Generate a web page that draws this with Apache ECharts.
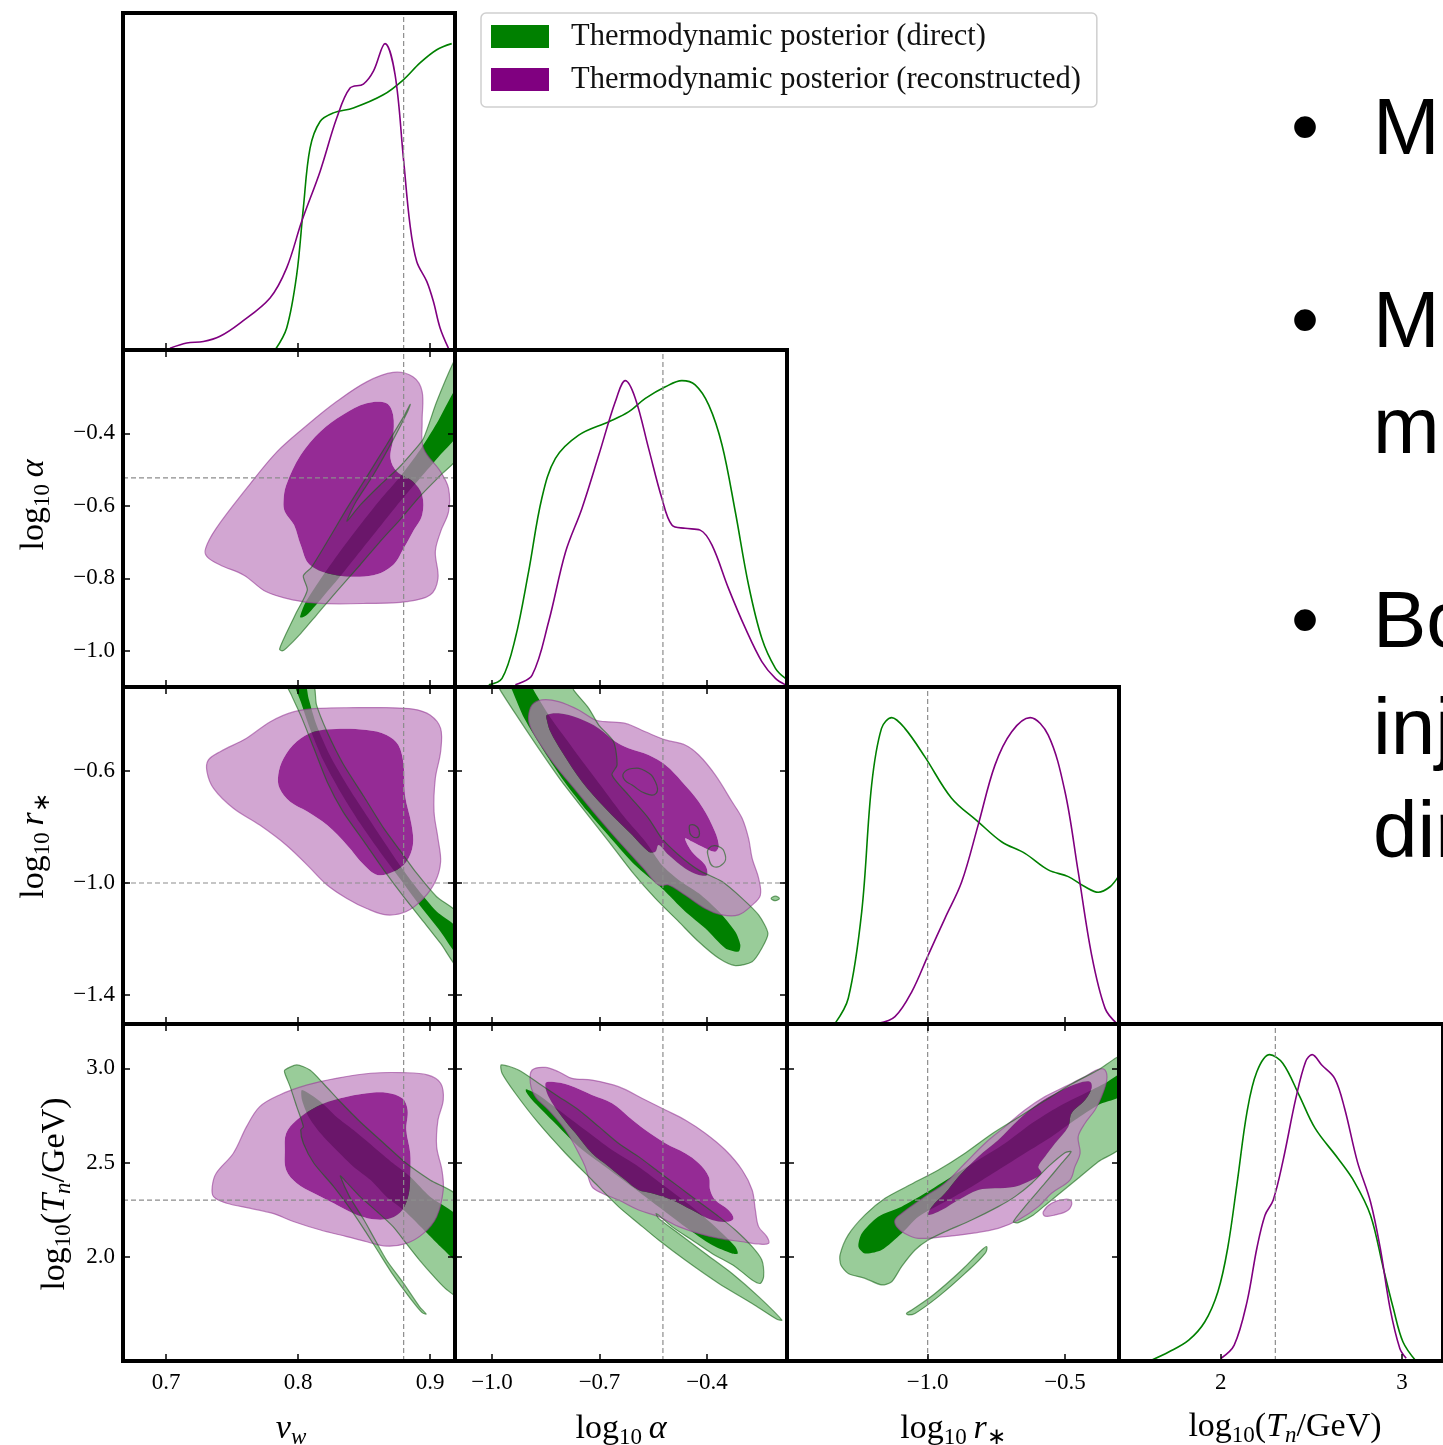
<!DOCTYPE html>
<html><head><meta charset="utf-8">
<script src="https://cdn.jsdelivr.net/npm/echarts@6/dist/echarts.min.js"></script>
<style>html,body{margin:0;padding:0;background:#fff;overflow:hidden}#c{width:1443px;height:1445px}</style>
</head><body><div id="c"></div><script>
// ---------------- DATA ----------------
const NAME_D = 'Thermodynamic posterior (direct)';
const NAME_R = 'Thermodynamic posterior (reconstructed)';
// injected (true) values: v_w, log10 alpha, log10 r*, log10 Tn
const injected = [0.88, -0.523, -1.0, 2.301];
// tick labels
const vwTicks = [0.7, 0.8, 0.9];
const alphaTicksX = [-1.0, -0.7, -0.4];
const rTicksX = [-1.0, -0.5];
const tTicksX = [2, 3];
const alphaTicksY = [-0.4, -0.6, -0.8, -1.0];
const rTicksY = [-0.6, -1.0, -1.4];
const tTicksY = [3.0, 2.5, 2.0];

// 1D marginals (normalised to peak = 1)
const vwDirect = [[0.7826,0.0],[0.7914,0.072],[0.799,0.246],[0.804,0.463],[0.8091,0.659],[0.8167,0.746],[0.8268,0.774],[0.8419,0.79],[0.8646,0.833],[0.8798,0.882],[0.8924,0.937],[0.9051,0.98],[0.9164,1.0]];
const vwRecon = [[0.703,0.006],[0.7157,0.023],[0.7283,0.028],[0.7409,0.045],[0.7561,0.088],[0.7788,0.17],[0.7914,0.268],[0.8028,0.42],[0.8167,0.583],[0.8293,0.757],[0.8394,0.855],[0.8495,0.868],[0.8571,0.91],[0.8659,1.0],[0.8735,0.899],[0.8798,0.627],[0.8848,0.409],[0.8899,0.289],[0.8975,0.224],[0.9025,0.159],[0.9076,0.072],[0.9139,0.006]];
const alphaDirect = [[-1.009,0.007],[-0.972,0.028],[-0.935,0.159],[-0.898,0.376],[-0.861,0.616],[-0.823,0.746],[-0.758,0.822],[-0.674,0.866],[-0.619,0.898],[-0.572,0.942],[-0.516,0.98],[-0.470,1.0],[-0.433,0.986],[-0.395,0.92],[-0.358,0.79],[-0.321,0.572],[-0.284,0.333],[-0.247,0.159],[-0.209,0.061],[-0.181,0.028]];
const alphaRecon = [[-0.935,0.007],[-0.888,0.039],[-0.842,0.213],[-0.795,0.44],[-0.749,0.583],[-0.702,0.757],[-0.656,0.931],[-0.628,1.0],[-0.600,0.942],[-0.563,0.779],[-0.526,0.616],[-0.498,0.529],[-0.461,0.518],[-0.419,0.512],[-0.386,0.463],[-0.340,0.322],[-0.293,0.192],[-0.247,0.083],[-0.209,0.028],[-0.181,0.007]];
const rDirect = [[-1.337,0.002],[-1.289,0.084],[-1.240,0.367],[-1.204,0.78],[-1.168,0.965],[-1.131,1.0],[-1.083,0.965],[-1.010,0.872],[-0.913,0.737],[-0.816,0.66],[-0.731,0.595],[-0.646,0.557],[-0.561,0.503],[-0.488,0.481],[-0.427,0.448],[-0.379,0.43],[-0.336,0.448],[-0.306,0.481]];
const rRecon = [[-1.180,0.002],[-1.119,0.024],[-1.058,0.105],[-0.998,0.225],[-0.937,0.345],[-0.876,0.464],[-0.816,0.65],[-0.755,0.845],[-0.694,0.954],[-0.627,1.0],[-0.561,0.943],[-0.500,0.758],[-0.452,0.497],[-0.403,0.225],[-0.354,0.051],[-0.312,0.002]];
const tDirect = [[1.608,0.0],[1.715,0.03],[1.823,0.068],[1.912,0.128],[1.984,0.226],[2.038,0.368],[2.091,0.585],[2.145,0.814],[2.199,0.944],[2.270,1.0],[2.342,0.972],[2.432,0.868],[2.52,0.76],[2.647,0.661],[2.737,0.585],[2.826,0.476],[2.898,0.30],[2.952,0.172],[3.005,0.063],[3.077,0.0]];
const tRecon = [[2.002,0.009],[2.074,0.052],[2.145,0.194],[2.199,0.368],[2.244,0.476],[2.289,0.525],[2.342,0.65],[2.414,0.857],[2.468,0.977],[2.504,1.0],[2.557,0.966],[2.629,0.922],[2.683,0.825],[2.754,0.65],[2.826,0.52],[2.880,0.368],[2.934,0.172],[2.988,0.041],[3.023,0.009]];

// 2D credible contours (outer = 2 sigma, inner = 1 sigma)
// v_w vs log10 alpha
const vwAlphaDirOuter = [[0.786,-0.995],[0.791,-0.952],[0.799,-0.892],[0.807,-0.832],[0.804,-0.793],[0.810,-0.770],[0.822,-0.699],[0.837,-0.607],[0.852,-0.520],[0.867,-0.432],[0.880,-0.354],[0.885,-0.320],[0.883,-0.340],[0.872,-0.418],[0.857,-0.515],[0.844,-0.588],[0.837,-0.642],[0.847,-0.598],[0.862,-0.543],[0.877,-0.492],[0.887,-0.451],[0.895,-0.414],[0.905,-0.313],[0.918,-0.202],[0.922,-0.184],[0.922,-0.460],[0.908,-0.515],[0.892,-0.575],[0.877,-0.639],[0.862,-0.699],[0.847,-0.763],[0.829,-0.837],[0.814,-0.901],[0.802,-0.952],[0.791,-0.993],[0.788,-1.000]];
const vwAlphaDirInner = [[0.8015,-0.906],[0.8053,-0.869],[0.8167,-0.804],[0.8318,-0.726],[0.847,-0.653],[0.8621,-0.584],[0.8773,-0.520],[0.8924,-0.446],[0.9051,-0.372],[0.922,-0.267],[0.922,-0.395],[0.9076,-0.460],[0.8924,-0.524],[0.8773,-0.588],[0.8621,-0.657],[0.847,-0.726],[0.8318,-0.795],[0.8167,-0.860],[0.8066,-0.901],[0.8028,-0.908]];
const vwAlphaRecOuter = [[0.730,-0.717],[0.738,-0.662],[0.761,-0.552],[0.784,-0.451],[0.807,-0.377],[0.829,-0.313],[0.852,-0.258],[0.872,-0.232],[0.887,-0.244],[0.894,-0.285],[0.894,-0.368],[0.895,-0.441],[0.908,-0.506],[0.914,-0.552],[0.914,-0.616],[0.908,-0.671],[0.904,-0.726],[0.906,-0.800],[0.900,-0.846],[0.882,-0.864],[0.852,-0.869],[0.817,-0.869],[0.797,-0.860],[0.776,-0.837],[0.759,-0.791],[0.741,-0.763],[0.731,-0.740]];
const vwAlphaRecInner = [[0.789,-0.588],[0.791,-0.543],[0.802,-0.460],[0.817,-0.395],[0.834,-0.349],[0.852,-0.317],[0.867,-0.317],[0.872,-0.349],[0.872,-0.414],[0.870,-0.469],[0.875,-0.506],[0.887,-0.533],[0.894,-0.570],[0.894,-0.625],[0.887,-0.671],[0.880,-0.717],[0.872,-0.763],[0.857,-0.791],[0.829,-0.791],[0.809,-0.763],[0.802,-0.708],[0.797,-0.653],[0.790,-0.616]];
// v_w vs log10 r*
const vwRDirOuter = [[0.791,-0.281],[0.795,-0.329],[0.803,-0.412],[0.812,-0.519],[0.822,-0.638],[0.834,-0.745],[0.850,-0.852],[0.865,-0.954],[0.880,-1.049],[0.895,-1.138],[0.908,-1.216],[0.922,-1.305],[0.922,-1.114],[0.905,-1.049],[0.890,-0.966],[0.877,-0.882],[0.865,-0.805],[0.850,-0.692],[0.834,-0.573],[0.822,-0.460],[0.814,-0.364],[0.811,-0.281]];
const vwRDirInner = [[0.797,-0.281],[0.802,-0.352],[0.809,-0.448],[0.819,-0.561],[0.832,-0.674],[0.847,-0.787],[0.862,-0.888],[0.877,-0.983],[0.892,-1.079],[0.908,-1.174],[0.922,-1.263],[0.922,-1.168],[0.905,-1.102],[0.890,-1.019],[0.877,-0.936],[0.865,-0.852],[0.850,-0.745],[0.837,-0.650],[0.824,-0.543],[0.814,-0.436],[0.808,-0.341],[0.805,-0.281]];
const vwRRecOuter = [[0.732,-0.561],[0.741,-0.531],[0.761,-0.483],[0.779,-0.424],[0.797,-0.388],[0.817,-0.376],[0.842,-0.374],[0.867,-0.374],[0.887,-0.379],[0.900,-0.400],[0.908,-0.448],[0.908,-0.531],[0.904,-0.626],[0.903,-0.745],[0.906,-0.841],[0.908,-0.924],[0.904,-0.995],[0.895,-1.055],[0.882,-1.102],[0.867,-1.114],[0.852,-1.091],[0.837,-1.055],[0.822,-1.007],[0.807,-0.936],[0.791,-0.864],[0.771,-0.793],[0.751,-0.733],[0.736,-0.662],[0.731,-0.602]];
const vwRRecInner = [[0.785,-0.614],[0.789,-0.555],[0.799,-0.495],[0.812,-0.460],[0.829,-0.450],[0.852,-0.454],[0.867,-0.471],[0.876,-0.507],[0.880,-0.579],[0.881,-0.686],[0.886,-0.793],[0.887,-0.864],[0.882,-0.924],[0.872,-0.960],[0.860,-0.971],[0.850,-0.936],[0.837,-0.864],[0.822,-0.793],[0.807,-0.745],[0.794,-0.710],[0.786,-0.662]];
// log10 alpha vs log10 r*
const alphaRDirOuter = [[-0.986,-0.281],[-0.977,-0.311],[-0.926,-0.412],[-0.870,-0.519],[-0.805,-0.638],[-0.740,-0.745],[-0.674,-0.852],[-0.609,-0.960],[-0.544,-1.055],[-0.479,-1.138],[-0.423,-1.210],[-0.367,-1.269],[-0.321,-1.295],[-0.274,-1.281],[-0.247,-1.233],[-0.230,-1.180],[-0.256,-1.114],[-0.302,-1.055],[-0.358,-0.995],[-0.423,-0.954],[-0.479,-0.900],[-0.526,-0.841],[-0.563,-0.769],[-0.619,-0.686],[-0.665,-0.614],[-0.651,-0.579],[-0.661,-0.495],[-0.702,-0.436],[-0.730,-0.376],[-0.772,-0.311],[-0.781,-0.281]];
const alphaRDirInner = [[-0.954,-0.281],[-0.944,-0.311],[-0.910,-0.412],[-0.854,-0.531],[-0.798,-0.638],[-0.733,-0.745],[-0.668,-0.841],[-0.601,-0.936],[-0.526,-1.019],[-0.461,-1.102],[-0.405,-1.162],[-0.349,-1.233],[-0.312,-1.245],[-0.307,-1.221],[-0.321,-1.174],[-0.367,-1.102],[-0.423,-1.037],[-0.479,-0.989],[-0.526,-0.936],[-0.572,-0.852],[-0.628,-0.769],[-0.684,-0.674],[-0.740,-0.579],[-0.795,-0.483],[-0.842,-0.400],[-0.884,-0.311],[-0.896,-0.281]];
const alphaRDirIsland = [[-0.221,-1.055],[-0.209,-1.047],[-0.198,-1.055],[-0.209,-1.063]];
const alphaRDirLoopA = [[-0.633,-0.608],[-0.609,-0.591],[-0.572,-0.600],[-0.544,-0.638],[-0.542,-0.680],[-0.572,-0.680],[-0.609,-0.650],[-0.630,-0.632]];
const alphaRDirLoopB = [[-0.447,-0.793],[-0.428,-0.799],[-0.421,-0.823],[-0.428,-0.838],[-0.444,-0.830],[-0.449,-0.810]];
const alphaRDirLoopC = [[-0.395,-0.876],[-0.367,-0.870],[-0.349,-0.900],[-0.354,-0.930],[-0.381,-0.942],[-0.395,-0.912]];
const alphaRRecOuter = [[-0.898,-0.406],[-0.888,-0.364],[-0.861,-0.346],[-0.814,-0.352],[-0.758,-0.382],[-0.712,-0.418],[-0.684,-0.424],[-0.628,-0.430],[-0.572,-0.460],[-0.516,-0.489],[-0.461,-0.507],[-0.423,-0.543],[-0.377,-0.614],[-0.330,-0.710],[-0.302,-0.769],[-0.284,-0.841],[-0.274,-0.912],[-0.256,-0.983],[-0.251,-1.043],[-0.274,-1.079],[-0.312,-1.114],[-0.358,-1.114],[-0.405,-1.091],[-0.461,-1.043],[-0.507,-1.007],[-0.535,-1.007],[-0.577,-0.948],[-0.637,-0.864],[-0.702,-0.769],[-0.767,-0.668],[-0.828,-0.573],[-0.870,-0.495],[-0.893,-0.442]];
const alphaRRecInner = [[-0.847,-0.400],[-0.814,-0.394],[-0.758,-0.412],[-0.702,-0.448],[-0.656,-0.495],[-0.619,-0.519],[-0.563,-0.543],[-0.516,-0.579],[-0.470,-0.638],[-0.423,-0.710],[-0.386,-0.793],[-0.367,-0.864],[-0.377,-0.888],[-0.405,-0.876],[-0.442,-0.852],[-0.461,-0.841],[-0.442,-0.888],[-0.405,-0.936],[-0.400,-0.971],[-0.423,-0.971],[-0.461,-0.948],[-0.507,-0.900],[-0.535,-0.864],[-0.544,-0.888],[-0.563,-0.888],[-0.609,-0.829],[-0.684,-0.733],[-0.749,-0.638],[-0.805,-0.531],[-0.837,-0.460],[-0.847,-0.418]];
// v_w vs log10 Tn
const vwTDirOuter = [[0.790,2.991],[0.799,3.018],[0.809,2.991],[0.819,2.921],[0.832,2.823],[0.847,2.717],[0.865,2.603],[0.882,2.497],[0.900,2.408],[0.922,2.311],[0.922,1.790],[0.913,1.825],[0.903,1.896],[0.892,1.984],[0.882,2.072],[0.872,2.161],[0.860,2.240],[0.847,2.320],[0.834,2.417],[0.832,2.429],[0.839,2.320],[0.850,2.196],[0.857,2.108],[0.867,1.984],[0.880,1.860],[0.892,1.737],[0.897,1.698],[0.894,1.705],[0.885,1.781],[0.872,1.905],[0.860,2.037],[0.852,2.125],[0.842,2.231],[0.827,2.373],[0.812,2.497],[0.804,2.603],[0.802,2.673],[0.804,2.691],[0.799,2.797],[0.794,2.903],[0.790,2.974]];
const vwTDirInner = [[0.803,2.885],[0.817,2.823],[0.829,2.744],[0.842,2.673],[0.857,2.585],[0.872,2.497],[0.885,2.426],[0.900,2.320],[0.922,2.205],[0.922,1.975],[0.908,2.055],[0.898,2.125],[0.880,2.249],[0.867,2.320],[0.855,2.408],[0.842,2.479],[0.829,2.567],[0.817,2.656],[0.808,2.744],[0.803,2.832]];
const vwTRecOuter = [[0.735,2.373],[0.738,2.444],[0.751,2.550],[0.761,2.691],[0.771,2.797],[0.786,2.859],[0.807,2.912],[0.829,2.947],[0.855,2.974],[0.880,2.977],[0.898,2.965],[0.908,2.921],[0.910,2.832],[0.906,2.726],[0.905,2.585],[0.909,2.461],[0.910,2.355],[0.905,2.214],[0.895,2.125],[0.882,2.072],[0.867,2.058],[0.852,2.081],[0.837,2.108],[0.817,2.143],[0.797,2.187],[0.781,2.231],[0.764,2.258],[0.746,2.285],[0.736,2.320]];
const vwTRecInner = [[0.790,2.567],[0.791,2.656],[0.799,2.726],[0.814,2.797],[0.832,2.841],[0.852,2.868],[0.867,2.871],[0.879,2.841],[0.883,2.779],[0.882,2.673],[0.885,2.550],[0.885,2.444],[0.884,2.338],[0.879,2.249],[0.870,2.205],[0.857,2.200],[0.842,2.231],[0.827,2.285],[0.812,2.338],[0.799,2.391],[0.791,2.461]];
// log10 alpha vs log10 Tn
const alphaTDirOuter = [[-0.974,3.018],[-0.926,2.991],[-0.870,2.921],[-0.814,2.850],[-0.758,2.779],[-0.702,2.691],[-0.647,2.603],[-0.591,2.532],[-0.535,2.452],[-0.479,2.373],[-0.423,2.293],[-0.367,2.214],[-0.321,2.143],[-0.274,2.055],[-0.247,1.984],[-0.242,1.896],[-0.251,1.860],[-0.274,1.878],[-0.321,1.949],[-0.386,2.019],[-0.442,2.090],[-0.498,2.161],[-0.530,2.214],[-0.542,2.231],[-0.535,2.205],[-0.479,2.125],[-0.405,2.019],[-0.330,1.913],[-0.256,1.790],[-0.191,1.666],[-0.205,1.670],[-0.274,1.754],[-0.367,1.860],[-0.461,1.984],[-0.535,2.090],[-0.591,2.178],[-0.647,2.267],[-0.721,2.408],[-0.795,2.550],[-0.870,2.709],[-0.935,2.868],[-0.972,2.974]];
const alphaTDirInner = [[-0.905,2.889],[-0.870,2.859],[-0.814,2.779],[-0.740,2.673],[-0.665,2.567],[-0.591,2.479],[-0.516,2.373],[-0.442,2.267],[-0.377,2.161],[-0.321,2.055],[-0.314,2.019],[-0.330,2.019],[-0.386,2.064],[-0.461,2.161],[-0.535,2.267],[-0.609,2.373],[-0.684,2.479],[-0.758,2.585],[-0.833,2.726],[-0.888,2.832],[-0.905,2.876]];
const alphaTRecOuter = [[-0.893,2.921],[-0.888,2.991],[-0.851,3.005],[-0.814,2.982],[-0.777,2.947],[-0.721,2.938],[-0.647,2.903],[-0.572,2.832],[-0.516,2.779],[-0.461,2.726],[-0.405,2.656],[-0.349,2.567],[-0.302,2.461],[-0.274,2.355],[-0.265,2.249],[-0.256,2.161],[-0.233,2.108],[-0.228,2.072],[-0.256,2.069],[-0.302,2.081],[-0.367,2.099],[-0.423,2.125],[-0.479,2.161],[-0.535,2.214],[-0.591,2.249],[-0.647,2.302],[-0.693,2.338],[-0.721,2.373],[-0.740,2.479],[-0.758,2.550],[-0.795,2.673],[-0.842,2.779],[-0.879,2.850]];
const alphaTRecInner = [[-0.851,2.921],[-0.833,2.929],[-0.786,2.912],[-0.721,2.859],[-0.665,2.815],[-0.619,2.744],[-0.572,2.673],[-0.516,2.603],[-0.461,2.550],[-0.423,2.497],[-0.395,2.426],[-0.391,2.355],[-0.377,2.302],[-0.340,2.249],[-0.326,2.205],[-0.340,2.187],[-0.386,2.196],[-0.442,2.249],[-0.498,2.302],[-0.554,2.338],[-0.591,2.355],[-0.628,2.408],[-0.674,2.479],[-0.721,2.550],[-0.767,2.656],[-0.805,2.744],[-0.842,2.850]];
// log10 r* vs log10 Tn
const rTDirOuter = [[-1.319,2.011],[-1.289,2.117],[-1.228,2.223],[-1.155,2.311],[-1.058,2.387],[-0.961,2.461],[-0.864,2.550],[-0.767,2.652],[-0.670,2.740],[-0.573,2.829],[-0.476,2.917],[-0.379,2.991],[-0.290,3.062],[-0.290,2.594],[-0.379,2.505],[-0.452,2.417],[-0.512,2.346],[-0.561,2.288],[-0.615,2.223],[-0.670,2.182],[-0.688,2.187],[-0.646,2.267],[-0.573,2.391],[-0.512,2.497],[-0.478,2.558],[-0.500,2.553],[-0.561,2.479],[-0.621,2.391],[-0.682,2.320],[-0.743,2.267],[-0.840,2.196],[-0.937,2.134],[-0.998,2.090],[-1.046,2.037],[-1.095,1.949],[-1.131,1.869],[-1.168,1.852],[-1.228,1.887],[-1.289,1.913],[-1.316,1.958]];
const rTDirInner = [[-1.252,2.055],[-1.240,2.125],[-1.180,2.214],[-1.095,2.267],[-1.010,2.338],[-0.913,2.426],[-0.816,2.514],[-0.718,2.603],[-0.621,2.709],[-0.524,2.797],[-0.427,2.868],[-0.354,2.921],[-0.290,2.974],[-0.290,2.859],[-0.379,2.806],[-0.464,2.726],[-0.549,2.638],[-0.646,2.550],[-0.743,2.461],[-0.840,2.373],[-0.937,2.293],[-1.034,2.214],[-1.095,2.125],[-1.168,2.037],[-1.228,2.019]];
const rTDirIsland = [[-1.077,1.701],[-1.058,1.719],[-0.973,1.807],[-0.876,1.931],[-0.803,2.037],[-0.785,2.055],[-0.791,2.019],[-0.864,1.913],[-0.961,1.790],[-1.046,1.701],[-1.070,1.693]];
const rTRecOuter = [[-1.119,2.196],[-1.095,2.231],[-1.010,2.320],[-0.937,2.391],[-0.864,2.497],[-0.791,2.603],[-0.718,2.691],[-0.646,2.779],[-0.573,2.850],[-0.500,2.903],[-0.427,2.956],[-0.379,2.995],[-0.354,2.991],[-0.348,2.938],[-0.367,2.850],[-0.391,2.779],[-0.427,2.709],[-0.452,2.638],[-0.445,2.550],[-0.464,2.479],[-0.482,2.408],[-0.549,2.338],[-0.597,2.267],[-0.670,2.196],[-0.743,2.152],[-0.840,2.125],[-0.937,2.108],[-1.034,2.099],[-1.083,2.125],[-1.113,2.161]];
const rTRecInner = [[-0.998,2.223],[-0.985,2.267],[-0.937,2.338],[-0.888,2.426],[-0.816,2.532],[-0.743,2.620],[-0.670,2.726],[-0.597,2.815],[-0.524,2.876],[-0.452,2.921],[-0.409,2.929],[-0.403,2.894],[-0.427,2.832],[-0.476,2.762],[-0.488,2.691],[-0.536,2.603],[-0.573,2.532],[-0.597,2.479],[-0.585,2.444],[-0.621,2.408],[-0.682,2.373],[-0.755,2.364],[-0.816,2.355],[-0.888,2.302],[-0.949,2.249]];
const rTRecIsland = [[-0.579,2.240],[-0.549,2.285],[-0.500,2.306],[-0.476,2.293],[-0.488,2.249],[-0.536,2.223],[-0.573,2.217]];

// ---------------- LAYOUT / STYLE ----------------
const COL_LEFT = [123, 455, 787, 1119];
const ROW_TOP = [13, 350, 687, 1024];
const CELL_W = 332, CELL_H = 337;
const RANGE_X = [[0.6674, 0.9189], [-1.1033, -0.1767], [-1.5121, -0.3034], [1.4383, 3.2262]];
const RANGE_Y = [null, [-1.0994, -0.1702], [-1.5036, -0.3000], [1.4488, 3.2350]];
const X_TICKS = [vwTicks, alphaTicksX, rTicksX, tTicksX];
const Y_TICKS = [null, alphaTicksY, rTicksY, tTicksY];
const X_DEC = [1, 1, 1, 0];
const GREEN = '#008000', PURPLE = '#800080';
const SERIF = '"Liberation Serif", "Times New Roman", serif';

function fmt(dec) { return v => (v < 0 ? '\u2212' : '') + Math.abs(v).toFixed(dec); }

const grids = [], xAxes = [], yAxes = [], series = [];
const spine = {show: true, onZero: false, lineStyle: {color: '#000', width: 4, cap: 'square'}};
function tick(vals) { return {show: true, inside: true, length: 7, customValues: vals, lineStyle: {color: '#000', width: 1.5}}; }
const noTick = {show: false};
const labelFont = {fontFamily: SERIF, fontSize: 23, color: '#000'};

function addGrid(r, c) {
  const gi = grids.length;
  const diag = r === c;
  grids.push({left: COL_LEFT[c], top: ROW_TOP[r], width: CELL_W, height: CELL_H, show: false});
  const xr = RANGE_X[c];
  const yr = diag ? [0, 1.1] : RANGE_Y[r];
  const xi = xAxes.length;
  xAxes.push({type: 'value', gridIndex: gi, position: 'bottom', min: xr[0], max: xr[1], z: 10,
    axisLine: spine, axisTick: tick(X_TICKS[c]), splitLine: {show: false},
    axisLabel: r === 3 ? Object.assign({show: true, customValues: X_TICKS[c], formatter: fmt(X_DEC[c]), margin: 10}, labelFont) : {show: false}});
  xAxes.push({type: 'value', gridIndex: gi, position: 'top', min: xr[0], max: xr[1], z: 10,
    axisLine: spine, axisTick: diag ? noTick : tick(X_TICKS[c]), splitLine: {show: false}, axisLabel: {show: false}});
  const yi = yAxes.length;
  yAxes.push({type: 'value', gridIndex: gi, position: 'left', min: yr[0], max: yr[1], z: 10,
    axisLine: spine, axisTick: diag ? noTick : tick(Y_TICKS[r]), splitLine: {show: false},
    axisLabel: (!diag && c === 0) ? Object.assign({show: true, customValues: Y_TICKS[r], formatter: fmt(1), margin: 8}, labelFont) : {show: false}});
  yAxes.push({type: 'value', gridIndex: gi, position: 'right', min: yr[0], max: yr[1], z: 10,
    axisLine: spine, axisTick: diag ? noTick : tick(Y_TICKS[r]), splitLine: {show: false}, axisLabel: {show: false}});
  return {xi, yi, xr, yr};
}

function signedArea(pts) {
  let a = 0;
  for (let i = 0; i < pts.length; i++) { const p = pts[i], q = pts[(i + 1) % pts.length]; a += p[0] * q[1] - q[0] * p[1]; }
  return a;
}

function poly(g, pts, name, style, z, smooth) {
  series.push({
    type: 'custom', name, xAxisIndex: g.xi, yAxisIndex: g.yi, clip: true, silent: true, z,
    itemStyle: {color: name === NAME_D ? GREEN : PURPLE},
    data: pts,
    renderItem: function (params, api) {
      if (params.dataIndex !== 0) return null;
      const points = pts.map(p => api.coord(p));
      return {type: 'polygon', shape: {points, smooth: smooth}, style: style};
    }
  });
}
// filled ring: outer contour minus inner contour (like a filled contour band)
function ring(g, outer, inner, name, style, z, smooth) {
  series.push({
    type: 'custom', name, xAxisIndex: g.xi, yAxisIndex: g.yi, clip: true, silent: true, z,
    itemStyle: {color: name === NAME_D ? GREEN : PURPLE},
    data: outer,
    renderItem: function (params, api) {
      if (params.dataIndex !== 0) return null;
      const po = outer.map(p => api.coord(p));
      let pi = inner.map(p => api.coord(p));
      if (Math.sign(signedArea(po)) === Math.sign(signedArea(pi))) pi = pi.slice().reverse();
      return {type: 'compoundPath', shape: {paths: [
        {type: 'polygon', shape: {points: po, smooth: smooth}},
        {type: 'polygon', shape: {points: pi, smooth: smooth}}
      ]}, style: style};
    }
  });
}

function dashed(g, pts) {
  series.push({type: 'line', xAxisIndex: g.xi, yAxisIndex: g.yi, data: pts, symbol: 'none', silent: true, z: 8, clip: true,
    lineStyle: {color: '#8c8c8c', width: 1.2, type: [5, 3]}, animation: false});
}

const diagCurves = [[vwDirect, vwRecon], [alphaDirect, alphaRecon], [rDirect, rRecon], [tDirect, tRecon]];
for (let i = 0; i < 4; i++) {
  const g = addGrid(i, i);
  series.push({type: 'line', name: NAME_D, xAxisIndex: g.xi, yAxisIndex: g.yi, data: diagCurves[i][0], smooth: 0.35,
    symbol: 'none', showSymbol: false, clip: true, silent: true, z: 5, lineStyle: {color: GREEN, width: 1.6}, itemStyle: {color: GREEN}});
  series.push({type: 'line', name: NAME_R, xAxisIndex: g.xi, yAxisIndex: g.yi, data: diagCurves[i][1], smooth: 0.35,
    symbol: 'none', showSymbol: false, clip: true, silent: true, z: 5, lineStyle: {color: PURPLE, width: 1.6}, itemStyle: {color: PURPLE}});
  dashed(g, [[injected[i], 0], [injected[i], 1.1]]);
}

const gOut = {fill: 'rgba(0,128,0,0.40)', stroke: 'none'};
const gIn = {fill: 'rgba(0,128,0,1)', stroke: 'none'};
const pRing = {fill: 'rgba(191,128,191,0.70)', stroke: 'none'};
const pOutLine = {fill: 'none', stroke: 'rgba(150,60,150,0.6)', lineWidth: 1.2};
const pIn = {fill: 'rgba(128,0,128,0.83)', stroke: 'none'};
const gLine = {fill: 'none', stroke: 'rgba(20,100,20,0.6)', lineWidth: 1.2};

const panels2D = [
  {r: 1, c: 0, d: [vwAlphaDirOuter, vwAlphaDirInner], p: [vwAlphaRecOuter, vwAlphaRecInner]},
  {r: 2, c: 0, d: [vwRDirOuter, vwRDirInner], p: [vwRRecOuter, vwRRecInner]},
  {r: 2, c: 1, d: [alphaRDirOuter, alphaRDirInner], p: [alphaRRecOuter, alphaRRecInner], dIslands: [alphaRDirIsland], dLoops: [alphaRDirLoopA, alphaRDirLoopB, alphaRDirLoopC]},
  {r: 3, c: 0, d: [vwTDirOuter, vwTDirInner], p: [vwTRecOuter, vwTRecInner]},
  {r: 3, c: 1, d: [alphaTDirOuter, alphaTDirInner], p: [alphaTRecOuter, alphaTRecInner]},
  {r: 3, c: 2, d: [rTDirOuter, rTDirInner], p: [rTRecOuter, rTRecInner], dIslands: [rTDirIsland], pIslands: [rTRecIsland]}
];
panels2D.forEach(P => {
  const g = addGrid(P.r, P.c);
  poly(g, P.d[0], NAME_D, gOut, 2, 0.25);
  (P.dIslands || []).forEach(isl => poly(g, isl, NAME_D, gOut, 2, 0.4));
  poly(g, P.d[1], NAME_D, gIn, 3, 0.25);
  ring(g, P.p[0], P.p[1], NAME_R, pRing, 4, 0.35);
  poly(g, P.p[0], NAME_R, pOutLine, 4, 0.35);
  (P.pIslands || []).forEach(isl => { poly(g, isl, NAME_R, pRing, 4, 0.4); poly(g, isl, NAME_R, pOutLine, 4, 0.4); });
  poly(g, P.p[1], NAME_R, pIn, 5, 0.35);
  poly(g, P.d[0], NAME_D, gLine, 6, 0.25);
  (P.dIslands || []).forEach(isl => poly(g, isl, NAME_D, gLine, 6, 0.4));
  (P.dLoops || []).forEach(lp => poly(g, lp, NAME_D, gLine, 6, 0.5));
  dashed(g, [[injected[P.c], g.yr[0]], [injected[P.c], g.yr[1]]]);
  dashed(g, [[g.xr[0], injected[P.r]], [g.xr[1], injected[P.r]]]);
});

// ---- math-style axis titles built from measured text pieces ----
const mctx = document.createElement('canvas').getContext('2d');
function mw(font, s) { mctx.font = font; return mctx.measureText(s).width; }
function mathLabel(parts, cx, cy, rot) {
  const MAIN = 34, SUB = 23;
  let x = 0; const kids = [];
  parts.forEach(p => {
    const size = p.sub ? SUB : MAIN;
    const font = (p.it ? 'italic ' : '') + size + 'px ' + SERIF;
    kids.push({type: 'text', x: x, y: p.sub ? 9 : 0, style: {text: p.t, font: font, fill: '#000', align: 'left', verticalAlign: 'middle', textAlign: 'left', textVerticalAlign: 'middle'}});
    x += mw(font, p.t);
  });
  kids.forEach(k => { k.x -= x / 2; });
  return {type: 'group', x: cx, y: cy, rotation: rot, children: kids, silent: true};
}
const labVw = [{t: 'v', it: true}, {t: 'w', it: true, sub: true}];
const labAlpha = [{t: 'log'}, {t: '10', sub: true}, {t: '\u2009'}, {t: '\u03b1', it: true}];
const labR = [{t: 'log'}, {t: '10', sub: true}, {t: '\u2009'}, {t: 'r', it: true}, {t: '\u2217', sub: true}];
const labT = [{t: 'log'}, {t: '10', sub: true}, {t: '('}, {t: 'T', it: true}, {t: 'n', it: true, sub: true}, {t: '/GeV)'}];

const graphics = [
  mathLabel(labVw, 291, 1429, 0),
  mathLabel(labAlpha, 621, 1429, 0),
  mathLabel(labR, 953, 1429, 0),
  mathLabel(labT, 1285, 1427, 0),
  mathLabel(labAlpha, 34, 505, Math.PI / 2),
  mathLabel(labR, 34, 846, Math.PI / 2),
  mathLabel(labT, 55, 1194, Math.PI / 2)
];
// slide text partially visible on the right
const SANS = '80px "Liberation Sans", Arial, sans-serif';
const slideLines = [
  {b: true, t: 'M', y: 132}, {b: true, t: 'M', y: 325}, {b: false, t: 'ma', y: 431},
  {b: true, t: 'Bo', y: 625}, {b: false, t: 'inj', y: 732}, {b: false, t: 'dir', y: 835}
];
slideLines.forEach(L => {
  if (L.b) graphics.push({type: 'text', x: 1305, y: L.y, silent: true, style: {text: '\u2022', font: SANS, fill: '#000', align: 'center', verticalAlign: 'middle', textAlign: 'center', textVerticalAlign: 'middle'}});
  graphics.push({type: 'text', x: 1373, y: L.y, silent: true, style: {text: L.t, font: SANS, fill: '#000', align: 'left', verticalAlign: 'middle', textAlign: 'left', textVerticalAlign: 'middle'}});
});

const chart = echarts.init(document.getElementById('c'), null, {renderer: 'canvas'});
chart.setOption({
  backgroundColor: '#fff',
  animation: false,
  grid: grids,
  xAxis: xAxes,
  yAxis: yAxes,
  legend: {
    data: [{name: NAME_D, itemStyle: {color: GREEN}}, {name: NAME_R, itemStyle: {color: PURPLE}}],
    left: 481, top: 13, orient: 'vertical', icon: 'rect', itemWidth: 58, itemHeight: 23, itemGap: 12,
    padding: [8, 16, 12, 10], backgroundColor: '#fff', borderColor: '#cfcfcf', borderWidth: 1.5, borderRadius: 5,
    selectedMode: false,
    textStyle: {fontFamily: SERIF, fontSize: 30.5, color: '#111', lineHeight: 31, padding: [0, 0, 0, 17]}
  },
  series: series,
  graphic: graphics
});
</script></body></html>
